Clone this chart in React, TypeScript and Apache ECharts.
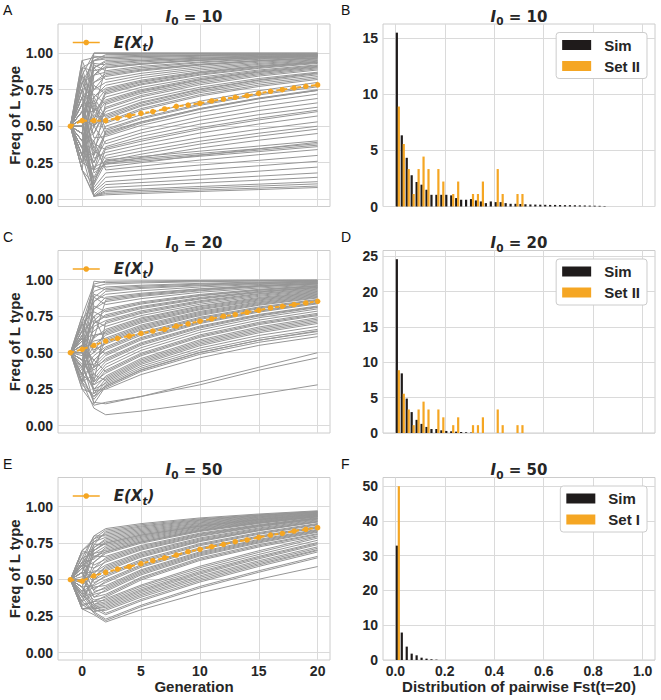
import React, { useEffect, useRef } from 'react';
import * as echarts from 'echarts';

// ---------- data ----------
const GENS_ALL = [-1, 0, 1, 2, 3, 4, 5, 6, 7, 8, 9, 10, 11, 12, 13, 14, 15, 16, 17, 18, 19, 20];
const GENS = [-1, 0, 1, 2, 5, 10, 15, 20];
const START = 0.5;

// trajectories: values at generations 0,1,2,5,10,15,20 (gen -1 = START)
const TRAJ_A = [
  [0.85, 1, 1, 1, 1, 1, 1],
  [0.7, 1, 1, 1, 1, 1, 1],
  [0.95, 0.97, 0.98, 0.985, 0.989, 0.993, 0.995],
  [0.8, 0.95, 0.96, 0.969, 0.979, 0.985, 0.99],
  [0.6, 0.93, 0.92, 0.94, 0.96, 0.975, 0.985],
  [0.9, 0.88, 0.9, 0.924, 0.95, 0.967, 0.98],
  [0.55, 0.85, 0.87, 0.9, 0.935, 0.958, 0.975],
  [0.75, 0.8, 0.84, 0.878, 0.918, 0.945, 0.965],
  [0.45, 0.9, 0.82, 0.862, 0.907, 0.938, 0.96],
  [0.65, 0.75, 0.8, 0.847, 0.896, 0.93, 0.955],
  [0.4, 0.7, 0.78, 0.831, 0.885, 0.923, 0.95],
  [0.8, 0.65, 0.75, 0.807, 0.868, 0.91, 0.94],
  [0.35, 0.78, 0.72, 0.783, 0.85, 0.896, 0.93],
  [0.6, 0.6, 0.7, 0.766, 0.836, 0.885, 0.92],
  [0.5, 0.55, 0.67, 0.742, 0.819, 0.872, 0.91],
  [0.7, 0.72, 0.65, 0.725, 0.805, 0.86, 0.9],
  [0.3, 0.5, 0.62, 0.7, 0.784, 0.843, 0.885],
  [0.55, 0.45, 0.6, 0.681, 0.767, 0.827, 0.87],
  [0.65, 0.62, 0.57, 0.657, 0.75, 0.814, 0.86],
  [0.45, 0.4, 0.55, 0.637, 0.73, 0.794, 0.84],
  [0.25, 0.58, 0.52, 0.61, 0.706, 0.772, 0.82],
  [0.6, 0.35, 0.5, 0.578, 0.671, 0.743, 0.8],
  [0.5, 0.68, 0.48, 0.558, 0.651, 0.723, 0.78],
  [0.35, 0.3, 0.45, 0.528, 0.621, 0.693, 0.75],
  [0.75, 0.42, 0.43, 0.505, 0.595, 0.665, 0.72],
  [0.4, 0.25, 0.4, 0.475, 0.565, 0.635, 0.69],
  [0.55, 0.5, 0.38, 0.453, 0.54, 0.607, 0.66],
  [0.3, 0.2, 0.36, 0.43, 0.514, 0.579, 0.63],
  [0.45, 0.38, 0.34, 0.397, 0.478, 0.543, 0.6],
  [0.6, 0.28, 0.32, 0.375, 0.453, 0.515, 0.57],
  [0.35, 0.15, 0.3, 0.351, 0.422, 0.479, 0.53],
  [0.5, 0.33, 0.28, 0.328, 0.397, 0.452, 0.5],
  [0.4, 0.22, 0.26, 0.308, 0.377, 0.432, 0.48],
  [0.65, 0.18, 0.24, 0.286, 0.351, 0.404, 0.45],
  [0.45, 0.12, 0.27, 0.292, 0.329, 0.364, 0.4],
  [0.3, 0.14, 0.26, 0.28, 0.314, 0.346, 0.38],
  [0.55, 0.1, 0.25, 0.27, 0.304, 0.336, 0.37],
  [0.25, 0.2, 0.24, 0.26, 0.294, 0.326, 0.36],
  [0.4, 0.08, 0.18, 0.2, 0.234, 0.266, 0.3],
  [0.35, 0.06, 0.15, 0.169, 0.2, 0.229, 0.26],
  [0.5, 0.05, 0.12, 0.137, 0.165, 0.192, 0.22],
  [0.2, 0.03, 0.1, 0.114, 0.136, 0.158, 0.18],
  [0.45, 0.02, 0.08, 0.092, 0.112, 0.13, 0.15],
  [0.3, 0.02, 0.06, 0.07, 0.087, 0.103, 0.12],
  [0.2, 0.02, 0.04, 0.049, 0.063, 0.076, 0.09],
  [0.6, 0.02, 0.03, 0.039, 0.053, 0.066, 0.08],
  [0.75, 0.98, 0.97, 0.977, 0.984, 0.989, 0.993],
  [0.65, 0.9, 0.94, 0.952, 0.966, 0.977, 0.987],
  [0.5, 0.8, 0.86, 0.89, 0.925, 0.95, 0.97],
  [0.85, 0.7, 0.76, 0.815, 0.874, 0.915, 0.945],
  [0.4, 0.6, 0.68, 0.75, 0.826, 0.878, 0.915],
  [0.7, 0.5, 0.58, 0.665, 0.755, 0.818, 0.865],
  [0.3, 0.92, 0.88, 0.91, 0.94, 0.962, 0.978],
  [0.9, 0.6, 0.9, 0.925, 0.952, 0.968, 0.98],
  [0.2, 0.85, 0.93, 0.948, 0.965, 0.976, 0.985],
  [0.6, 1, 1, 1, 1, 1, 1],
  [0.45, 0.95, 0.99, 0.992, 0.994, 0.996, 0.997],
  [0.95, 0.75, 0.85, 0.884, 0.922, 0.949, 0.968],
  [0.7, 0.3, 0.66, 0.735, 0.815, 0.868, 0.905],
  [0.3, 0.65, 0.44, 0.52, 0.615, 0.687, 0.745],
  [0.85, 0.5, 0.73, 0.79, 0.856, 0.901, 0.935],
  [0.55, 0.2, 0.46, 0.53, 0.62, 0.69, 0.745],
  [0.25, 0.4, 0.2, 0.226, 0.268, 0.305, 0.34],
  [0.65, 0.35, 0.22, 0.25, 0.3, 0.345, 0.39],
  [0.2, 0.1, 0.35, 0.41, 0.49, 0.555, 0.61],
  [0.5, 0.9, 0.95, 0.96, 0.972, 0.981, 0.988],
  [0.8, 0.85, 0.91, 0.93, 0.954, 0.97, 0.982],
  [0.4, 0.45, 0.63, 0.71, 0.795, 0.852, 0.893],
  [0.6, 0.7, 0.56, 0.645, 0.74, 0.805, 0.852],
  [0.35, 0.55, 0.74, 0.8, 0.864, 0.907, 0.938],
  [0.75, 0.6, 0.53, 0.62, 0.716, 0.782, 0.83],
  [0.45, 0.25, 0.47, 0.55, 0.643, 0.714, 0.77],
  [0.9, 0.95, 0.97, 0.978, 0.985, 0.99, 0.994],
  [0.55, 0.02, 0.05, 0.06, 0.075, 0.09, 0.105],
];

const TRAJ_C = [
  [0.75, 0.97, 0.99, 0.992, 0.995, 0.997, 0.998],
  [0.7, 0.95, 0.97, 0.978, 0.986, 0.991, 0.995],
  [0.65, 0.92, 0.95, 0.962, 0.975, 0.984, 0.99],
  [0.6, 0.96, 0.93, 0.947, 0.964, 0.976, 0.985],
  [0.72, 0.85, 0.9, 0.924, 0.95, 0.967, 0.98],
  [0.55, 0.9, 0.87, 0.9, 0.935, 0.958, 0.975],
  [0.68, 0.8, 0.85, 0.886, 0.924, 0.951, 0.97],
  [0.5, 0.88, 0.83, 0.87, 0.914, 0.943, 0.965],
  [0.62, 0.75, 0.8, 0.848, 0.899, 0.934, 0.96],
  [0.45, 0.82, 0.78, 0.833, 0.889, 0.927, 0.955],
  [0.58, 0.7, 0.76, 0.817, 0.878, 0.92, 0.95],
  [0.7, 0.78, 0.74, 0.802, 0.867, 0.912, 0.945],
  [0.4, 0.68, 0.72, 0.786, 0.856, 0.905, 0.94],
  [0.55, 0.65, 0.7, 0.769, 0.843, 0.893, 0.93],
  [0.65, 0.72, 0.68, 0.754, 0.832, 0.886, 0.925],
  [0.48, 0.6, 0.66, 0.738, 0.821, 0.878, 0.92],
  [0.35, 0.62, 0.64, 0.721, 0.807, 0.867, 0.91],
  [0.6, 0.55, 0.62, 0.704, 0.794, 0.855, 0.9],
  [0.52, 0.58, 0.6, 0.689, 0.783, 0.848, 0.895],
  [0.45, 0.5, 0.58, 0.672, 0.769, 0.836, 0.885],
  [0.62, 0.52, 0.56, 0.655, 0.755, 0.825, 0.875],
  [0.38, 0.48, 0.54, 0.638, 0.742, 0.813, 0.865],
  [0.55, 0.45, 0.52, 0.62, 0.728, 0.801, 0.855],
  [0.42, 0.42, 0.5, 0.604, 0.714, 0.79, 0.845],
  [0.6, 0.4, 0.48, 0.587, 0.7, 0.778, 0.835],
  [0.5, 0.38, 0.46, 0.568, 0.683, 0.762, 0.82],
  [0.3, 0.35, 0.44, 0.551, 0.669, 0.751, 0.81],
  [0.58, 0.32, 0.42, 0.534, 0.656, 0.739, 0.8],
  [0.45, 0.3, 0.4, 0.516, 0.639, 0.723, 0.785],
  [0.35, 0.28, 0.38, 0.497, 0.622, 0.708, 0.77],
  [0.55, 0.3, 0.36, 0.479, 0.605, 0.692, 0.755],
  [0.4, 0.25, 0.34, 0.46, 0.588, 0.676, 0.74],
  [0.62, 0.22, 0.32, 0.44, 0.568, 0.656, 0.72],
  [0.28, 0.2, 0.3, 0.42, 0.548, 0.636, 0.7],
  [0.5, 0.25, 0.29, 0.407, 0.532, 0.618, 0.68],
  [0.33, 0.18, 0.28, 0.394, 0.516, 0.599, 0.66],
  [0.45, 0.15, 0.27, 0.383, 0.503, 0.585, 0.645],
  [0.3, 0.2, 0.26, 0.371, 0.489, 0.571, 0.63],
  [0.3, 0.12, 0.075, 0.1, 0.155, 0.215, 0.28],
  [0.35, 0.16, 0.15, 0.2, 0.3, 0.4, 0.5],
  [0.25, 0.14, 0.16, 0.2, 0.28, 0.38, 0.465],
  [0.4, 0.24, 0.25, 0.35, 0.465, 0.55, 0.61],
  [0.6, 0.99, 0.98, 0.985, 0.99, 0.994, 0.996],
  [0.35, 0.85, 0.92, 0.94, 0.959, 0.972, 0.982],
  [0.75, 0.6, 0.86, 0.893, 0.929, 0.955, 0.972],
  [0.3, 0.72, 0.79, 0.84, 0.893, 0.93, 0.957],
  [0.45, 0.3, 0.71, 0.777, 0.85, 0.9, 0.935],
  [0.7, 0.5, 0.65, 0.73, 0.815, 0.872, 0.915],
  [0.55, 0.75, 0.57, 0.663, 0.762, 0.83, 0.88],
  [0.4, 0.55, 0.49, 0.596, 0.707, 0.784, 0.84],
  [0.65, 0.4, 0.45, 0.56, 0.676, 0.757, 0.815],
  [0.3, 0.45, 0.37, 0.488, 0.613, 0.7, 0.762],
  [0.5, 0.28, 0.33, 0.45, 0.578, 0.666, 0.73],
  [0.6, 0.35, 0.31, 0.43, 0.558, 0.646, 0.71],
  [0.25, 0.22, 0.27, 0.38, 0.5, 0.585, 0.65],
  [0.45, 0.62, 0.63, 0.713, 0.8, 0.861, 0.905],
  [0.55, 0.7, 0.75, 0.81, 0.872, 0.916, 0.948],
  [0.4, 0.8, 0.88, 0.907, 0.938, 0.96, 0.976],
  [0.65, 0.88, 0.94, 0.955, 0.97, 0.98, 0.988],
  [0.5, 0.45, 0.53, 0.63, 0.735, 0.807, 0.86],
  [0.35, 0.4, 0.59, 0.68, 0.776, 0.842, 0.89],
];

const TRAJ_E = [
  [0.65, 0.8, 0.85, 0.884, 0.923, 0.95, 0.972],
  [0.7, 0.78, 0.84, 0.876, 0.917, 0.945, 0.968],
  [0.6, 0.76, 0.82, 0.861, 0.907, 0.939, 0.965],
  [0.62, 0.8, 0.8, 0.845, 0.896, 0.931, 0.96],
  [0.55, 0.72, 0.78, 0.829, 0.885, 0.924, 0.955],
  [0.68, 0.7, 0.76, 0.813, 0.874, 0.916, 0.95],
  [0.5, 0.74, 0.74, 0.797, 0.863, 0.908, 0.945],
  [0.6, 0.65, 0.72, 0.782, 0.852, 0.9, 0.94],
  [0.45, 0.68, 0.7, 0.766, 0.841, 0.893, 0.935],
  [0.58, 0.62, 0.68, 0.75, 0.83, 0.885, 0.93],
  [0.52, 0.66, 0.66, 0.734, 0.819, 0.877, 0.925],
  [0.65, 0.6, 0.64, 0.718, 0.808, 0.87, 0.92],
  [0.42, 0.58, 0.62, 0.703, 0.797, 0.862, 0.915],
  [0.55, 0.55, 0.6, 0.687, 0.786, 0.854, 0.91],
  [0.62, 0.52, 0.58, 0.67, 0.772, 0.842, 0.9],
  [0.48, 0.56, 0.56, 0.654, 0.761, 0.835, 0.895],
  [0.38, 0.5, 0.54, 0.637, 0.747, 0.823, 0.885],
  [0.58, 0.48, 0.52, 0.619, 0.733, 0.811, 0.875],
  [0.45, 0.46, 0.5, 0.602, 0.719, 0.799, 0.865],
  [0.55, 0.44, 0.48, 0.585, 0.705, 0.788, 0.855],
  [0.4, 0.45, 0.46, 0.568, 0.691, 0.776, 0.845],
  [0.6, 0.42, 0.44, 0.551, 0.677, 0.764, 0.835],
  [0.35, 0.4, 0.42, 0.533, 0.663, 0.752, 0.825],
  [0.5, 0.38, 0.4, 0.516, 0.649, 0.74, 0.815],
  [0.45, 0.36, 0.38, 0.498, 0.632, 0.724, 0.8],
  [0.32, 0.35, 0.36, 0.454, 0.581, 0.687, 0.785],
  [0.55, 0.33, 0.35, 0.442, 0.568, 0.673, 0.77],
  [0.4, 0.32, 0.34, 0.431, 0.556, 0.66, 0.755],
  [0.3, 0.3, 0.32, 0.412, 0.538, 0.643, 0.74],
  [0.45, 0.3, 0.31, 0.401, 0.526, 0.63, 0.725],
  [0.35, 0.28, 0.3, 0.391, 0.516, 0.62, 0.715],
  [0.33, 0.28, 0.23, 0.325, 0.454, 0.561, 0.66],
  [0.38, 0.27, 0.22, 0.315, 0.444, 0.551, 0.65],
  [0.3, 0.26, 0.21, 0.294, 0.408, 0.503, 0.59],
  [0.42, 0.3, 0.26, 0.355, 0.484, 0.591, 0.69],
  [0.3, 0.32, 0.27, 0.365, 0.494, 0.601, 0.7],
  [0.58, 0.74, 0.83, 0.868, 0.912, 0.942, 0.966],
  [0.7, 0.76, 0.79, 0.837, 0.89, 0.928, 0.958],
  [0.48, 0.7, 0.75, 0.805, 0.868, 0.912, 0.948],
  [0.62, 0.64, 0.71, 0.774, 0.846, 0.897, 0.938],
  [0.55, 0.78, 0.81, 0.853, 0.902, 0.935, 0.962],
  [0.45, 0.72, 0.77, 0.821, 0.879, 0.92, 0.952],
  [0.65, 0.68, 0.73, 0.79, 0.857, 0.904, 0.942],
  [0.4, 0.62, 0.69, 0.758, 0.835, 0.889, 0.932],
  [0.6, 0.58, 0.65, 0.726, 0.813, 0.873, 0.922],
  [0.5, 0.54, 0.63, 0.71, 0.802, 0.866, 0.917],
  [0.35, 0.52, 0.59, 0.679, 0.779, 0.848, 0.905],
  [0.58, 0.5, 0.57, 0.662, 0.766, 0.838, 0.897],
  [0.42, 0.47, 0.53, 0.628, 0.74, 0.817, 0.88],
  [0.5, 0.43, 0.49, 0.594, 0.712, 0.793, 0.86],
  [0.38, 0.41, 0.45, 0.56, 0.684, 0.77, 0.84],
  [0.55, 0.38, 0.43, 0.542, 0.67, 0.758, 0.83],
  [0.33, 0.35, 0.39, 0.508, 0.64, 0.732, 0.81],
  [0.45, 0.33, 0.37, 0.463, 0.592, 0.698, 0.795],
  [0.3, 0.31, 0.33, 0.422, 0.547, 0.652, 0.748],
  [0.4, 0.29, 0.29, 0.38, 0.505, 0.61, 0.705],
  [0.62, 0.7, 0.75, 0.805, 0.868, 0.912, 0.948],
  [0.7, 0.66, 0.69, 0.758, 0.836, 0.89, 0.933],
];

// mean trajectories E(X_t), generations -1..20
const EX_A = [0.5, 0.538, 0.538, 0.538, 0.556, 0.572, 0.588, 0.6, 0.618, 0.636, 0.645, 0.657, 0.673, 0.686, 0.698, 0.709, 0.725, 0.739, 0.75, 0.762, 0.773, 0.783];
const EX_C = [0.5, 0.523, 0.55, 0.58, 0.598, 0.614, 0.632, 0.648, 0.66, 0.682, 0.698, 0.716, 0.732, 0.75, 0.761, 0.777, 0.79, 0.807, 0.818, 0.83, 0.841, 0.852];
const EX_E = [0.5, 0.491, 0.527, 0.55, 0.573, 0.589, 0.61, 0.63, 0.65, 0.669, 0.692, 0.708, 0.726, 0.742, 0.76, 0.772, 0.79, 0.806, 0.817, 0.833, 0.845, 0.856];

// histograms of pairwise Fst (density per bin of width 0.02, bins from 0)
const BIN_W = 0.02;
const SIM_B = [15.46, 6.33, 4.33, 2.78, 2.18, 1.94, 1.49, 1.04, 1.04, 1.04, 1.04, 0.99, 0.75, 0.6, 0.6, 0.66, 0.54, 0.45, 0.3, 0.45, 0.39, 0.39, 0.3, 0.24, 0.24, 0.22, 0.2, 0.18, 0.17, 0.16, 0.15, 0.14, 0.14, 0.13, 0.12, 0.12, 0.11, 0.1, 0.09, 0.08, 0.07, 0.06, 0.04];
const SIM_D = [24.6, 8.44, 4.87, 2.96, 1.86, 1.29, 0.86, 0.57, 0.57, 0.38, 0.29, 0.24, 0.19, 0.14, 0.1, 0.06];
const SIM_F = [32.9, 7.9, 3.85, 1.83, 1.35, 0.67, 0.39, 0.2, 0.1];
const SET_II = [8.89, 5.56, 3.33, 1.11, 3.33, 4.44, 3.33, 0, 3.33, 2.22, 0, 1.11, 2.22, 0, 0, 1.11, 1.11, 2.22, 0, 0, 3.33, 1.11, 0, 0, 1.11, 1.11];
const SET_I = [50];

// axis ticks
const GEN_TICKS = [0, 5, 10, 15, 20];
const FREQ_TICKS = [0, 0.25, 0.5, 0.75, 1];
const FST_TICKS = [0, 0.2, 0.4, 0.6, 0.8, 1.0];
const DENS_TICKS_B = [0, 5, 10, 15];
const DENS_TICKS_D = [0, 5, 10, 15, 20, 25];
const DENS_TICKS_F = [0, 10, 20, 30, 40, 50];
const DENS_MAX = [16.23, 25.83, 52.5];
const I0 = ['10', '20', '50'];
const REF_NAMES = ['Set II', 'Set II', 'Set I'];
const LETTERS_L = ['A', 'C', 'E'];
const LETTERS_R = ['B', 'D', 'F'];

// ---------- styles ----------
const TXT = '#262626';
const GRID_C = '#dadada';
const BORDER_C = '#cccccc';
const GREY = '#969696';
const ORANGE = '#f5a623';
const BLACK = '#1f1b1b';
const SANS = 'Liberation Sans';
const MATH = 'DejaVu Sans';

const LEFT_X = 58;
const RIGHT_X = 383;
const PW = 272;
const PH = 182.5;
const TOPS = [24, 250.5, 477.5];

const tickFont = { fontFamily: SANS, fontWeight: 'bold' as const, fontSize: 14, color: TXT };
const nameFont = { fontFamily: SANS, fontWeight: 'bold' as const, fontSize: 15, color: TXT };

const mathRich = {
  e: { fontFamily: MATH, fontWeight: 'bold', fontStyle: 'italic', fontSize: 15, color: TXT, lineHeight: 20 },
  s: { fontFamily: MATH, fontWeight: 'bold', fontStyle: 'italic', fontSize: 10.5, color: TXT, lineHeight: 12, verticalAlign: 'bottom' },
};

function buildOption() {
  const grid: any[] = [];
  const xAxis: any[] = [];
  const yAxis: any[] = [];
  const series: any[] = [];
  const legend: any[] = [];
  const graphic: any[] = [];

  const trajSets = [TRAJ_A, TRAJ_C, TRAJ_E];
  const means = [EX_A, EX_C, EX_E];
  const sims = [SIM_B, SIM_D, SIM_F];
  const refs = [SET_II, SET_II, SET_I];
  const densTicks = [DENS_TICKS_B, DENS_TICKS_D, DENS_TICKS_F];

  for (let r = 0; r < 3; r++) {
    const top = TOPS[r];
    const last = r === 2;
    const gl = r * 2;
    const gr = r * 2 + 1;
    grid.push({ left: LEFT_X, top, width: PW, height: PH, show: true, borderColor: BORDER_C, borderWidth: 1, backgroundColor: '#fff', containLabel: false, outerBoundsMode: 'none' });
    grid.push({ left: RIGHT_X, top, width: PW, height: PH, show: true, borderColor: BORDER_C, borderWidth: 1, backgroundColor: '#fff', containLabel: false, outerBoundsMode: 'none' });

    xAxis.push({
      type: 'value', gridIndex: gl, min: -2.05, max: 21.05,
      axisLine: { show: false },
      axisTick: { show: false, customValues: GEN_TICKS },
      axisLabel: { show: last, customValues: GEN_TICKS, margin: 4, ...tickFont },
      splitLine: { show: true, lineStyle: { color: GRID_C, width: 1 } },
      name: last ? 'Generation' : '', nameLocation: 'middle', nameGap: 18, nameTextStyle: nameFont,
    });
    yAxis.push({
      type: 'value', gridIndex: gl, min: -0.05, max: 1.2,
      axisLine: { show: false },
      axisTick: { show: false, customValues: FREQ_TICKS },
      axisLabel: { customValues: FREQ_TICKS, margin: 5, formatter: (v: number) => v.toFixed(2), ...tickFont },
      splitLine: { show: true, lineStyle: { color: GRID_C, width: 1 } },
      name: 'Freq of L type', nameLocation: 'middle', nameGap: 35, nameRotate: 90, nameTextStyle: nameFont,
    });
    xAxis.push({
      type: 'value', gridIndex: gr, min: -0.05, max: 1.05,
      axisLine: { show: false },
      axisTick: { show: false, customValues: FST_TICKS },
      axisLabel: { show: last, customValues: FST_TICKS, margin: 4, formatter: (v: number) => v.toFixed(1), ...tickFont },
      splitLine: { show: true, lineStyle: { color: GRID_C, width: 1 } },
      name: last ? 'Distribution of pairwise Fst(t=20)' : '', nameLocation: 'middle', nameGap: 18, nameTextStyle: nameFont,
    });
    yAxis.push({
      type: 'value', gridIndex: gr, min: 0, max: DENS_MAX[r],
      axisLine: { show: false },
      axisTick: { show: false, customValues: densTicks[r] },
      axisLabel: { customValues: densTicks[r], margin: 5, ...tickFont },
      splitLine: { show: true, lineStyle: { color: GRID_C, width: 1 } },
    });

    trajSets[r].forEach((row) => {
      series.push({
        type: 'line', xAxisIndex: gl, yAxisIndex: gl, silent: true, symbol: 'none', z: 2,
        lineStyle: { color: GREY, width: 1 },
        emphasis: { disabled: true },
        data: GENS.map((g, k) => [g, k === 0 ? START : row[k - 1]]),
      });
    });
    series.push({
      type: 'line', name: 'E(X_t)', xAxisIndex: gl, yAxisIndex: gl, z: 5,
      symbol: 'circle', symbolSize: 5.5,
      itemStyle: { color: ORANGE },
      lineStyle: { color: ORANGE, width: 2, type: [4, 3] },
      emphasis: { disabled: true },
      data: GENS_ALL.map((g, k) => [g, means[r][k]]),
    });
    series.push({
      type: 'bar', name: 'Sim', xAxisIndex: gr, yAxisIndex: gr, barWidth: 2.2, barGap: '-100%',
      itemStyle: { color: BLACK }, emphasis: { disabled: true },
      data: sims[r].map((v, i) => [i * BIN_W + 0.3 * BIN_W, v]),
    });
    series.push({
      type: 'bar', name: REF_NAMES[r], xAxisIndex: gr, yAxisIndex: gr, barWidth: 2.2, barGap: '-100%',
      itemStyle: { color: ORANGE }, emphasis: { disabled: true },
      data: refs[r].map((v, i) => [i * BIN_W + 0.7 * BIN_W, v]),
    });

    legend.push({
      data: ['E(X_t)'], left: 72, top: top + 11, padding: 0, itemWidth: 27, itemHeight: 7,
      selectedMode: false,
      lineStyle: { type: 'solid', width: 1.5 },
      formatter: () => '{e|E(X}{s|t}{e|)}',
      textStyle: { padding: [0, 0, 0, 9], rich: mathRich },
    });
    legend.push({
      data: ['Sim', REF_NAMES[r]], right: 14, top: top + 8.5, orient: 'vertical', align: 'left',
      selectedMode: false, icon: 'rect', itemWidth: 29, itemHeight: 10, itemGap: 4,
      padding: [4, 7, 4, 6], backgroundColor: '#fff', borderColor: BORDER_C, borderWidth: 1, borderRadius: 3,
      textStyle: { fontFamily: SANS, fontWeight: 'bold', fontSize: 15, color: TXT, lineHeight: 17, padding: [0, 0, 0, 8] },
    });

    const titleRich = {
      i: { fontFamily: MATH, fontWeight: 'bold', fontStyle: 'italic', fontSize: 15, fill: TXT, lineHeight: 20 },
      s: { fontFamily: MATH, fontWeight: 'bold', fontSize: 10.5, fill: TXT, lineHeight: 12, verticalAlign: 'bottom' },
      n: { fontFamily: MATH, fontWeight: 'bold', fontSize: 15, fill: TXT, lineHeight: 20 },
    };
    [LEFT_X, RIGHT_X].forEach((x0) => {
      graphic.push({
        type: 'text', x: x0 + PW / 2, y: top - 7.5, silent: true,
        style: { text: `{i|I}{s|0}{n| = ${I0[r]}}`, rich: titleRich, align: 'center', verticalAlign: 'middle' },
      });
    });
    graphic.push({ type: 'text', x: 3, y: top - 14, silent: true, style: { text: LETTERS_L[r], font: `14px "${SANS}"`, fill: '#111', verticalAlign: 'middle' } });
    graphic.push({ type: 'text', x: 341, y: top - 14, silent: true, style: { text: LETTERS_R[r], font: `14px "${SANS}"`, fill: '#111', verticalAlign: 'middle' } });
  }

  return { animation: false, backgroundColor: '#fff', grid, xAxis, yAxis, series, legend, graphic };
}

export default function App() {
  const ref = useRef<HTMLDivElement>(null);
  useEffect(() => {
    document.body.style.margin = '0';
    const chart = echarts.init(ref.current!, null, { renderer: 'svg' });
    chart.setOption(buildOption() as any);
    return () => chart.dispose();
  }, []);
  return <div ref={ref} style={{ width: 661, height: 700 }} />;
}
